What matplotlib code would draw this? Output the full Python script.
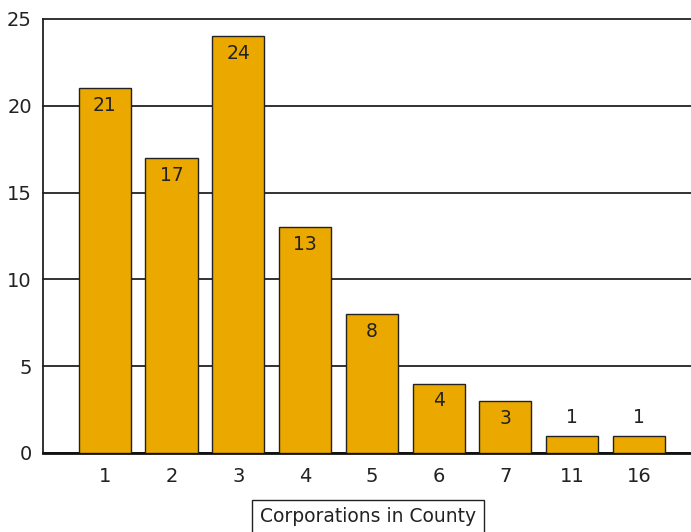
import numpy as np
import matplotlib.pyplot as plt

categories = ["1", "2", "3", "4", "5", "6", "7", "11", "16"]
counts = [21, 17, 24, 13, 8, 4, 3, 1, 1]

plt.rcParams['font.family'] = ['DejaVu Sans']

fig = plt.figure(figsize=(6.91, 5.32), dpi=100)
ax = fig.add_axes([43 / 691, 79 / 532, 648 / 691, 434 / 532])

x = np.arange(len(categories))
bars = ax.bar(x, counts, width=0.78, color="#EBA900", edgecolor="#222222", linewidth=1, zorder=3)

for xi, v in zip(x, counts):
    if v >= 3:
        ax.text(xi, v - 0.45, str(v), ha="center", va="top", fontsize=13.5, color="#222222", zorder=4)
    else:
        ax.text(xi, v + 0.5, str(v), ha="center", va="bottom", fontsize=13.5, color="#222222", zorder=4)

ax.set_xlim(-0.925, 8.78)
ax.set_ylim(0, 25)
ax.set_yticks([0, 5, 10, 15, 20, 25])
ax.set_xticks(x)
ax.set_xticklabels(categories)
ax.tick_params(axis="both", length=0, labelsize=14, colors="#222222")
ax.tick_params(axis="x", pad=10)
ax.tick_params(axis="y", pad=8)
ax.yaxis.grid(True, color="#222222", linewidth=1.3, zorder=0)
ax.set_axisbelow(True)
for gl in ax.get_ygridlines():
    gl.set_clip_on(False)

for s in ["top", "right"]:
    ax.spines[s].set_visible(False)
ax.spines["left"].set_color("#222222")
ax.spines["left"].set_linewidth(1.3)
ax.spines["bottom"].set_color("#111111")
ax.spines["bottom"].set_linewidth(2)

fig.text(368 / 691, 1 - 517 / 532, "Corporations in County", ha="center", va="center",
         fontsize=13.5, color="#222222",
         bbox=dict(boxstyle="square,pad=0.4", facecolor="white", edgecolor="#222222", linewidth=1))

fig.savefig("out.png", dpi=100)
